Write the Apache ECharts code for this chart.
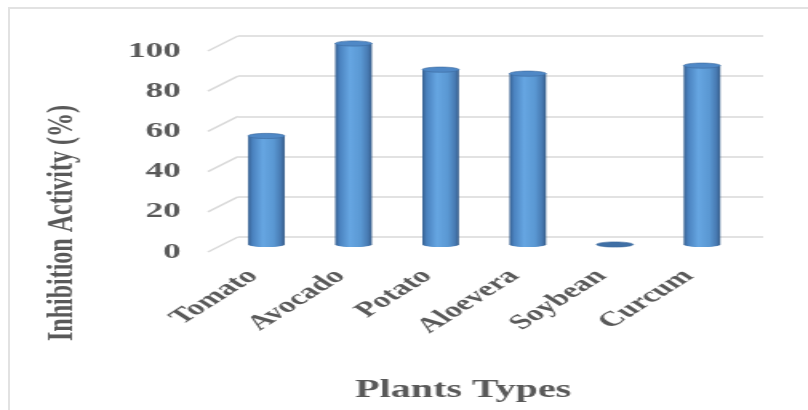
<!DOCTYPE html>
<html>
<head>
<meta charset="utf-8">
<script src="https://cdn.jsdelivr.net/npm/echarts@6/dist/echarts.min.js"></script>
<style>
  html, body { margin: 0; padding: 0; background: #ffffff; overflow: hidden; width: 808px; height: 410px; }
  #frame { position: absolute; left: 8px; top: 7px; width: 900px; height: 500px; border: 2px solid #e2e2e2; }
  /* the chart is laid out narrow and widened horizontally */
  #chart { position: absolute; left: 0; top: 0; width: 505px; height: 410px; transform: scaleX(1.6); transform-origin: 0 0; }
</style>
</head>
<body>
<div id="frame"></div>
<div id="chart"></div>
<script>
// Inhibition activity of plant extracts
const categories = ['Tomato', 'Avocado', 'Potato', 'Aloevera', 'Soybean', 'Curcum'];
const inhibition = [54, 100, 87, 85, 0, 89];
const yTicks = [0, 20, 40, 60, 80, 100];

const FONT = 'Liberation Serif';
const TEXT = '#595959';
const GRID_LINE = '#d9d9d9';
// depth offset between the back wall and the front edge of the floor
const DEPTH_X = -18.75, DEPTH_Y = 15;

const chart = echarts.init(document.getElementById('chart'), null, { width: 505, height: 410, renderer: 'canvas' });

const cylinderFill = {
  type: 'linear', x: 0, y: 0, x2: 1, y2: 0,
  colorStops: [
    { offset: 0, color: '#365f8f' },
    { offset: 0.12, color: '#4a82bf' },
    { offset: 0.4, color: '#66a6e2' },
    { offset: 0.7, color: '#5a98d3' },
    { offset: 0.9, color: '#4779b1' },
    { offset: 1, color: '#345a86' }
  ]
};

function renderCylinder(params, api) {
  const idx = api.value(0);
  const val = api.value(1);
  const top = api.coord([idx, val]);
  const base = api.coord([idx, 0]);
  const band = api.size([1, 0])[0];
  const rx = band * 0.21;
  const ry = 2.6;
  const children = [];
  if (base[1] - top[1] > 0.5) {
    children.push({
      type: 'ellipse',
      shape: { cx: base[0], cy: base[1], rx: rx, ry: ry },
      style: { fill: cylinderFill }
    });
    children.push({
      type: 'rect',
      shape: { x: top[0] - rx, y: top[1], width: rx * 2, height: base[1] - top[1] },
      style: { fill: cylinderFill }
    });
  }
  children.push({
    type: 'ellipse',
    shape: { cx: top[0], cy: top[1], rx: rx, ry: ry },
    style: { fill: val > 0 ? '#4f88c6' : '#3f6fa5', stroke: '#3c6a9e', lineWidth: 0.6 }
  });
  return { type: 'group', children: children };
}

function renderDepthLine(params, api) {
  const p = api.coord([0, api.value(1)]);
  return {
    type: 'line',
    shape: { x1: p[0], y1: p[1], x2: p[0] + DEPTH_X, y2: p[1] + DEPTH_Y },
    style: { stroke: GRID_LINE, lineWidth: 1.5 }
  };
}

const yBase = { type: 'value', min: 0, max: 100, interval: 20 };

chart.setOption({
  animation: false,
  backgroundColor: 'transparent',
  grid: [
    { left: 148.7, right: 28, top: 36, height: 201 },     // back wall
    { left: 139.3, right: 39, top: 43.5, height: 201 },   // bar centres
    { left: 129.9, right: 48.4, top: 51, height: 201 }    // front edge
  ],
  xAxis: [
    { gridIndex: 0, type: 'value', min: 0, max: 1, show: false },
    {
      gridIndex: 1, type: 'category', data: categories,
      axisLine: { show: false }, axisTick: { show: false },
      axisLabel: {
        interval: 0, rotate: 45, margin: 20, padding: [0, 12, 0, 0],
        fontFamily: FONT, fontWeight: 'bold', fontSize: 21, color: TEXT
      }
    },
    { gridIndex: 2, type: 'category', data: categories, show: false }
  ],
  yAxis: [
    Object.assign({ gridIndex: 0, axisLine: { show: false }, axisTick: { show: false }, axisLabel: { show: false },
      splitLine: { show: true, lineStyle: { color: GRID_LINE, width: 1.5 } } }, yBase),
    Object.assign({ gridIndex: 1, show: false }, yBase),
    Object.assign({ gridIndex: 2, axisLine: { show: false }, axisTick: { show: false }, splitLine: { show: false },
      axisLabel: { margin: 17, fontFamily: FONT, fontWeight: 'bold', fontSize: 22, color: TEXT } }, yBase)
  ],
  series: [
    {
      type: 'custom', name: 'depth', xAxisIndex: 0, yAxisIndex: 0, silent: true, z: 1,
      data: yTicks.map(v => [0, v]),
      renderItem: renderDepthLine
    },
    {
      type: 'custom', name: 'Inhibition Activity', xAxisIndex: 1, yAxisIndex: 1, z: 3,
      data: inhibition.map((v, i) => [i, v]),
      renderItem: renderCylinder
    }
  ],
  graphic: [
    {
      type: 'text', x: 39, y: 223, rotation: Math.PI / 2,
      style: { text: 'Inhibition Activity (%)', font: 'bold 24px "' + FONT + '"', fill: TEXT, align: 'center', verticalAlign: 'middle' }
    },
    {
      type: 'text', x: 289.5, y: 391,
      style: { text: 'Plants Types', font: 'bold 25px "' + FONT + '"', fill: TEXT, align: 'center', verticalAlign: 'middle' }
    }
  ]
});
</script>
</body>
</html>
